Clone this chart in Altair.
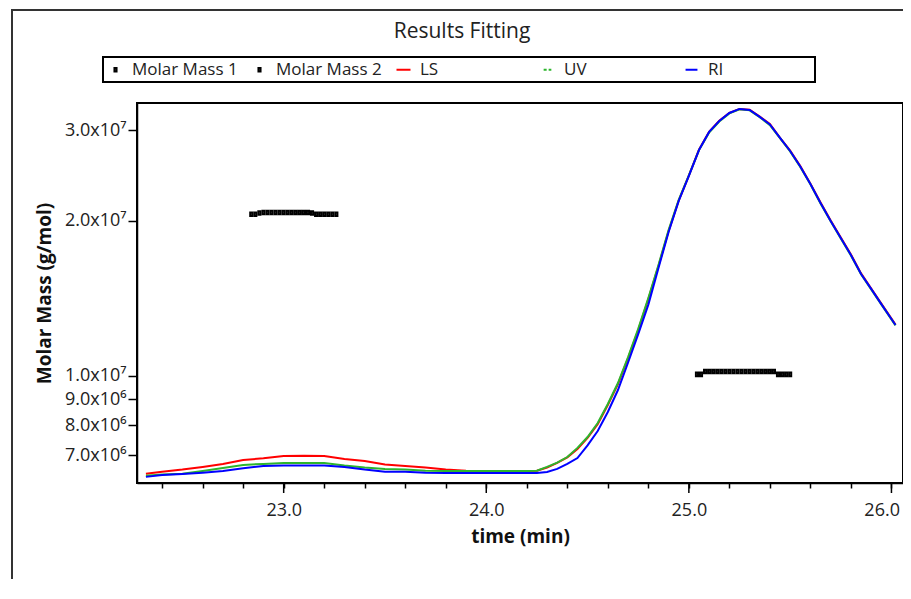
import altair as alt
import pandas as pd

# ---- data ----
TIME = [22.32, 22.40, 22.50, 22.60, 22.70, 22.80, 22.90, 23.00, 23.10, 23.20,
        23.30, 23.40, 23.50, 23.60, 23.70, 23.80, 23.90, 24.00, 24.10, 24.20,
        24.25, 24.30, 24.35, 24.40, 24.45, 24.50, 24.55, 24.60, 24.65, 24.70,
        24.75, 24.80, 24.85, 24.90, 24.95, 25.00, 25.05, 25.10, 25.15, 25.20,
        25.25, 25.30, 25.35, 25.40, 25.45, 25.50, 25.55, 25.60, 25.65, 25.70,
        25.75, 25.80, 25.85, 25.90, 25.95, 26.00, 26.02]

# molar mass in units of 10^6 g/mol
LS = [6.44, 6.50, 6.56, 6.64, 6.73, 6.85, 6.90, 6.97, 6.98, 6.97,
      6.88, 6.82, 6.71, 6.67, 6.62, 6.56, 6.53, 6.52, 6.52, 6.52,
      6.53, 6.62, 6.76, 6.93, 7.19, 7.56, 8.04, 8.76, 9.62, 10.81,
      12.26, 14.09, 16.33, 19.10, 21.90, 24.48, 27.50, 29.80, 31.30, 32.45,
      33.00, 32.90, 31.90, 30.85, 29.00, 27.38, 25.55, 23.62, 21.70, 20.02,
      18.55, 17.20, 15.80, 14.77, 13.80, 12.90, 12.56]
UV = [6.38, 6.42, 6.44, 6.52, 6.61, 6.70, 6.73, 6.76, 6.76, 6.76,
      6.68, 6.62, 6.58, 6.56, 6.53, 6.52, 6.52, 6.52, 6.52, 6.52,
      6.53, 6.64, 6.77, 6.94, 7.23, 7.59, 8.08, 8.80, 9.67, 10.86,
      12.32, 14.15, 16.41, 19.19, 21.96, 24.50, 27.45, 29.70, 31.20, 32.35,
      32.95, 32.80, 31.80, 30.70, 28.95, 27.30, 25.45, 23.55, 21.60, 19.95,
      18.48, 17.12, 15.74, 14.70, 13.75, 12.86, 12.52]
RI = [6.35, 6.40, 6.43, 6.47, 6.52, 6.60, 6.67, 6.68, 6.68, 6.68,
      6.64, 6.56, 6.50, 6.50, 6.47, 6.46, 6.46, 6.46, 6.46, 6.46,
      6.46, 6.49, 6.58, 6.73, 6.91, 7.31, 7.80, 8.49, 9.37, 10.60,
      12.04, 13.74, 16.19, 19.02, 21.86, 24.45, 27.46, 29.78, 31.28, 32.42,
      33.01, 32.86, 31.85, 30.79, 28.99, 27.34, 25.51, 23.59, 21.66, 19.98,
      18.52, 17.16, 15.76, 14.74, 13.77, 12.88, 12.54]

MM1_TIME = [22.84, 22.86, 22.88, 22.90, 22.92, 22.94, 22.96, 22.98, 23.00, 23.02, 23.04,
            23.06, 23.08, 23.10, 23.12, 23.14, 23.16, 23.18, 23.20, 23.22, 23.24, 23.26]
MM1 = [20.6, 20.6, 20.7, 20.75, 20.75, 20.75, 20.75, 20.75, 20.75, 20.75, 20.75,
       20.75, 20.75, 20.75, 20.75, 20.7, 20.6, 20.6, 20.6, 20.6, 20.6, 20.6]
MM2_TIME = [25.04, 25.06, 25.08, 25.10, 25.12, 25.14, 25.16, 25.18, 25.20, 25.22, 25.24, 25.26,
            25.28, 25.30, 25.32, 25.34, 25.36, 25.38, 25.40, 25.42, 25.44, 25.46, 25.48, 25.50]
MM2 = [10.05, 10.05, 10.18, 10.18, 10.18, 10.18, 10.18, 10.18, 10.18, 10.18, 10.18, 10.18,
       10.18, 10.18, 10.18, 10.18, 10.18, 10.18, 10.18, 10.18, 10.05, 10.05, 10.05, 10.05]

SERIES = ["Molar Mass 1", "Molar Mass 2", "LS", "UV", "RI"]
COLORS = ["#000000", "#000000", "#ff0000", "#2db52d", "#0000ff"]
# legend / marker glyphs: small block for the molar-mass points, short strokes for traces
SHAPES = ["M-0.15,-0.25H0.15V0.25H-0.15Z", "M-0.15,-0.25H0.15V0.25H-0.15Z",
          "M-1,0H1", "M-0.55,0H0.55", "M-0.85,0H0.85"]
DASHES = [[1, 0], [1, 0], [1, 0], [3, 2], [1, 0]]
Y_TICKS = [7e6, 8e6, 9e6, 1e7, 2e7, 3e7]
X_TICKS = [22.4, 22.6, 22.8, 23.0, 23.2, 23.4, 23.6, 23.8, 24.0, 24.2, 24.4,
           24.6, 24.8, 25.0, 25.2, 25.4, 25.6, 25.8, 26.0]
X_MAJOR = [23.0, 24.0, 25.0, 26.0]
X_DOMAIN = [22.276, 26.057]
Y_DOMAIN = [6.178e6, 3.39e7]

# ---- tables ----
rows = []
for name, vals in (("LS", LS), ("UV", UV), ("RI", RI)):
    for t, v in zip(TIME, vals):
        rows.append({"time": t, "mass": v * 1e6, "series": name})
lines_df = pd.DataFrame(rows)

pts = []
for t, v in zip(MM1_TIME, MM1):
    pts.append({"time": t, "mass": v * 1e6, "series": "Molar Mass 1"})
for t, v in zip(MM2_TIME, MM2):
    pts.append({"time": t, "mass": v * 1e6, "series": "Molar Mass 2"})
pts_df = pd.DataFrame(pts)
major_df = pd.DataFrame({"time": X_MAJOR})

FONT = "Open Sans"
W, H = 766, 380

xenc = alt.X(
    "time:Q",
    scale=alt.Scale(domain=X_DOMAIN, nice=False, zero=False),
    axis=alt.Axis(
        values=X_TICKS,
        labelExpr="abs(datum.value - round(datum.value)) < 0.01 ? format(datum.value, '.1f') : ''",
        title="time (min)", grid=False, tickSize=5, labelOverlap=False,
        labelFlush=12, labelFlushOffset=8,
        labelPadding=13, titlePadding=8, labelFontSize=18,
    ),
)
yenc = alt.Y(
    "mass:Q",
    scale=alt.Scale(type="log", domain=Y_DOMAIN, nice=False),
    axis=alt.Axis(
        values=Y_TICKS,
        labelExpr="datum.value >= 9999999 ? format(datum.value / 1e7, '.1f') + 'x10\u2077' : format(datum.value / 1e6, '.1f') + 'x10\u2076'",
        title="Molar Mass (g/mol)", grid=False, tickSize=9, labelOverlap=False,
        labelPadding=2, titlePadding=10, labelFontSize=18,
    ),
)

legend = alt.Legend(
    title=None, orient="none", legendX=-34, legendY=-46, direction="horizontal",
    columns=5, gridAlign="all", columnPadding=10, labelFont=FONT, labelFontSize=17,
    labelColor="#222", labelOffset=8, padding=4,
    symbolStrokeWidth=2, symbolSize=196, labelLimit=300,
)
color_scale = alt.Scale(domain=SERIES, range=COLORS)

base_line = alt.Chart(lines_df)
layers = []
for name in ["LS", "UV", "RI"]:
    layers.append(
        base_line.transform_filter(alt.datum.series == name)
        .mark_line(strokeWidth=2)
        .encode(x=xenc, y=yenc,
                color=alt.Color("series:N", scale=color_scale, legend=legend))
    )

points = alt.Chart(pts_df).mark_point(filled=False, opacity=1, strokeWidth=2, size=200).encode(
    x=xenc, y=yenc,
    color=alt.Color("series:N", scale=color_scale, legend=legend),
    shape=alt.Shape("series:N", scale=alt.Scale(domain=SERIES, range=SHAPES), legend=legend),
    strokeDash=alt.StrokeDash("series:N", scale=alt.Scale(domain=SERIES, range=DASHES), legend=legend),
)

major_ticks = alt.Chart(major_df).mark_rule(color="#000000", strokeWidth=1.5).encode(
    x=xenc, y=alt.value(H), y2=alt.value(H + 10))

frame_df = pd.DataFrame({"k": [0]})
left_line = alt.Chart(frame_df).mark_rule(color="#333333", strokeWidth=2).encode(
    x=alt.value(-125), y=alt.value(-93), y2=alt.value(490))
top_line = alt.Chart(frame_df).mark_rule(color="#333333", strokeWidth=2).encode(
    x=alt.value(-126), x2=alt.value(775), y=alt.value(-93))
legend_box = alt.Chart(frame_df).mark_rect(fill="#ffffff", stroke="#000000", strokeWidth=2).encode(
    x=alt.value(-34), x2=alt.value(678), y=alt.value(-46), y2=alt.value(-21))

chart = alt.layer(left_line, top_line, legend_box, major_ticks, *layers, points).properties(
    width=W, height=H,
    title=alt.Title("Results Fitting", font=FONT, fontSize=21, fontWeight="normal",
                    color="#222", anchor="middle", dx=-58, dy=33, offset=0),
    autosize=alt.AutoSizeParams(type="none"),
    padding={"left": 129, "top": 95, "right": 0, "bottom": 96},
    background="#ffffff",
).configure_view(
    stroke="#000000", strokeWidth=2
).configure_axis(
    labelFont=FONT, labelColor="#222",
    titleFont=FONT, titleFontSize=19, titleFontWeight="bold", titleColor="#111",
    domainColor="#000000", domainWidth=1.5, tickColor="#000000", tickWidth=1.5,
)

chart.save("out.html", embed_options={"renderer": "svg", "actions": False})
